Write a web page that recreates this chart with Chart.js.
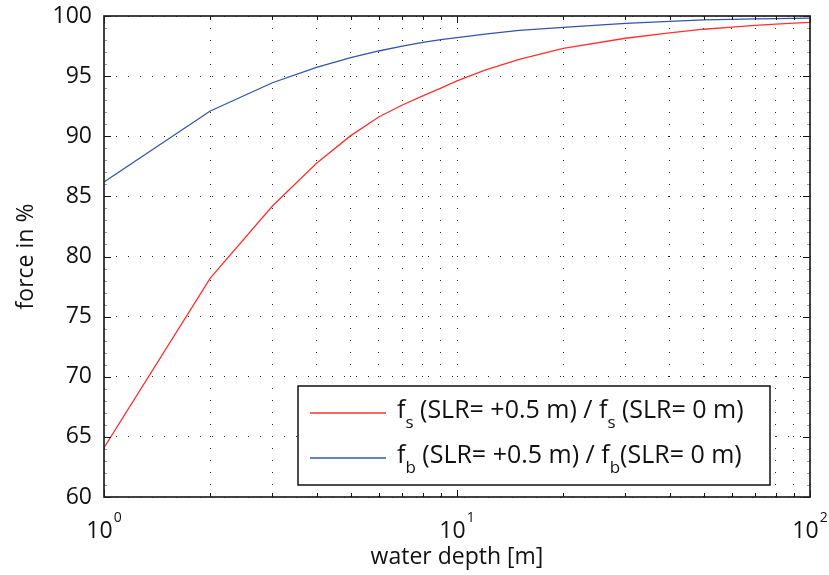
<!DOCTYPE html>
<html>
<head>
<meta charset="utf-8">
<script src="https://cdn.jsdelivr.net/npm/chart.js@4/dist/chart.umd.min.js"></script>
<style>
  html, body { margin: 0; padding: 0; background: #fff; }
  #wrap { width: 829px; height: 575px; }
</style>
</head>
<body>
<div id="wrap"><canvas id="c" width="829" height="575"></canvas></div>
<script>
// Water depth [m]
const depths = [1, 2, 3, 4, 5, 6, 7, 8, 9, 10, 12, 15, 20, 30, 40, 50, 60, 70, 80, 90, 100];
// f_s(SLR = +0.5 m) / f_s(SLR = 0 m) in %
const shearRatio = [64.1, 78.2, 84.2, 87.75, 90.05, 91.6, 92.6, 93.35, 94.0, 94.6, 95.5, 96.4,
                    97.3, 98.15, 98.6, 98.9, 99.08, 99.22, 99.32, 99.4, 99.47];
// f_b(SLR = +0.5 m) / f_b(SLR = 0 m) in %
const bedRatio = [86.2, 92.1, 94.45, 95.73, 96.53, 97.09, 97.5, 97.8, 98.03, 98.2, 98.5, 98.8,
                  99.06, 99.39, 99.56, 99.67, 99.72, 99.76, 99.79, 99.81, 99.83];

const yTicks = [60, 65, 70, 75, 80, 85, 90, 95, 100];
const xTicks = [1, 2, 3, 4, 5, 6, 7, 8, 9, 10, 20, 30, 40, 50, 60, 70, 80, 90, 100];
const xDecades = [1, 10, 100];
const xTickExponents = ['0', '1', '2'];

const seriesNames = ['fs (SLR= +0.5 m) / fs (SLR= 0 m)', 'fb (SLR= +0.5 m) / fb(SLR= 0 m)'];
// legend text split into normal / subscript runs
const legendRuns = [
  [['f', 0], ['s', 1], [' (SLR= +0.5 m) / f', 0], ['s', 1], [' (SLR= 0 m)', 0]],
  [['f', 0], ['b', 1], [' (SLR= +0.5 m) / f', 0], ['b', 1], ['(SLR= 0 m)', 0]]
];
const seriesColors = ['#ff3030', '#3454a8'];

const FONT = '"Open Sans", "DejaVu Sans", sans-serif';

function seg(ctx, x1, y1, x2, y2) {
  ctx.beginPath(); ctx.moveTo(x1, y1); ctx.lineTo(x2, y2); ctx.stroke();
}

const axesFrame = {
  id: 'axesFrame',
  afterDatasetsDraw(chart) {
    const { ctx, chartArea: a, scales: { x, y } } = chart;
    ctx.save();
    ctx.lineWidth = 1;
    // y minor ticks every unit
    ctx.strokeStyle = '#999';
    for (let v = y.min + 1; v < y.max; v += 1) {
      if (yTicks.includes(v)) continue;
      const py = Math.round(y.getPixelForValue(v)) + 0.5;
      seg(ctx, a.left, py, a.left + 3, py);
      seg(ctx, a.right - 3, py, a.right, py);
    }
    // y major ticks
    ctx.strokeStyle = '#111';
    yTicks.forEach(v => {
      const py = Math.round(y.getPixelForValue(v)) + 0.5;
      seg(ctx, a.left, py, a.left + 7, py);
      seg(ctx, a.right - 7, py, a.right, py);
    });
    // x ticks (decades long, others short)
    x.ticks.forEach(t => {
      const px = Math.round(x.getPixelForValue(t.value)) + 0.5;
      const len = t.major ? 7 : 4;
      seg(ctx, px, a.bottom, px, a.bottom - len);
      seg(ctx, px, a.top, px, a.top + len);
    });
    // axes box
    ctx.lineWidth = 1.7;
    ctx.strokeStyle = '#222';
    ctx.strokeRect(a.left, a.top, a.right - a.left, a.bottom - a.top);
    ctx.restore();
  },
  afterDraw(chart, args, opts) {
    const { ctx, chartArea: a, scales: { x } } = chart;
    ctx.save();
    ctx.fillStyle = '#111';
    ctx.textBaseline = 'alphabetic';
    ctx.textAlign = 'left';
    // decade labels 10^n
    xDecades.forEach((v, i) => {
      const px = x.getPixelForValue(v);
      ctx.font = '23px ' + FONT;
      const wBase = ctx.measureText('10').width;
      ctx.font = '14px ' + FONT;
      const wExp = ctx.measureText(xTickExponents[i]).width;
      const start = px - (wBase + 1 + wExp) / 2;
      ctx.font = '23px ' + FONT;
      ctx.fillText('10', start, a.bottom + 41);
      ctx.font = '14px ' + FONT;
      ctx.fillText(xTickExponents[i], start + wBase + 1, a.bottom + 25);
    });

    // legend
    const L = opts.box;
    const bx = a.left + L.left, by = a.top + L.top;
    ctx.fillStyle = '#fff';
    ctx.fillRect(bx, by, L.width, L.height);
    ctx.lineWidth = 1.5;
    ctx.strokeStyle = '#111';
    ctx.strokeRect(bx, by, L.width, L.height);
    chart.data.datasets.forEach((ds, i) => {
      const rowY = by + L.firstRow + i * L.rowGap;
      ctx.strokeStyle = ds.borderColor;
      ctx.lineWidth = 1.3;
      seg(ctx, bx + L.lineStart, rowY, bx + L.lineEnd, rowY);
      let tx = bx + L.textStart;
      ctx.fillStyle = '#111';
      legendRuns[i].forEach(([txt, sub]) => {
        ctx.font = (sub ? '17px ' : '25px ') + FONT;
        ctx.fillText(txt, tx, rowY + (sub ? 15 : 5));
        tx += ctx.measureText(txt).width;
      });
    });
    ctx.restore();
  }
};

new Chart(document.getElementById('c'), {
  type: 'line',
  data: {
    datasets: [
      {
        label: seriesNames[0],
        data: depths.map((d, i) => ({ x: d, y: shearRatio[i] })),
        borderColor: seriesColors[0]
      },
      {
        label: seriesNames[1],
        data: depths.map((d, i) => ({ x: d, y: bedRatio[i] })),
        borderColor: seriesColors[1]
      }
    ]
  },
  options: {
    responsive: false,
    animation: false,
    devicePixelRatio: 1,
    layout: { padding: { top: 16, right: 19, left: 0, bottom: 0 } },
    elements: {
      point: { radius: 0 },
      line: { tension: 0, borderWidth: 1.3, fill: false }
    },
    plugins: {
      legend: { display: false },
      tooltip: { enabled: false },
      axesFrame: {
        box: { left: 194, top: 370, width: 472, height: 99,
               lineStart: 12, lineEnd: 88, textStart: 99, firstRow: 27, rowGap: 45 }
      }
    },
    scales: {
      x: {
        type: 'logarithmic',
        position: 'bottom',
        min: 1,
        max: 100,
        afterBuildTicks: s => { s.ticks = xTicks.map(v => ({ value: v, major: xDecades.includes(v) })); },
        afterFit: s => { s.height = 78; s.paddingLeft = 0; s.paddingRight = 0; },
        ticks: { display: false },
        grid: { drawTicks: false, color: '#222', lineWidth: 1 },
        border: { display: false, dash: [1, 11] },
        title: {
          display: true,
          text: 'water depth [m]',
          color: '#111',
          font: { family: FONT, size: 23 },
          padding: { top: 0, bottom: 4 }
        }
      },
      y: {
        min: 60,
        max: 100,
        afterBuildTicks: s => { s.ticks = yTicks.map(v => ({ value: v })); },
        afterFit: s => { s.width = 104; s.paddingTop = 0; s.paddingBottom = 0; },
        ticks: { color: '#111', font: { family: FONT, size: 23 }, padding: 12 },
        grid: { drawTicks: false, color: '#222', lineWidth: 1 },
        border: { display: false, dash: [1, 11] },
        title: {
          display: true,
          text: 'force in %',
          color: '#111',
          font: { family: FONT, size: 23 },
          padding: { top: 13, bottom: 0 }
        }
      }
    }
  },
  plugins: [axesFrame]
});
</script>
</body>
</html>
